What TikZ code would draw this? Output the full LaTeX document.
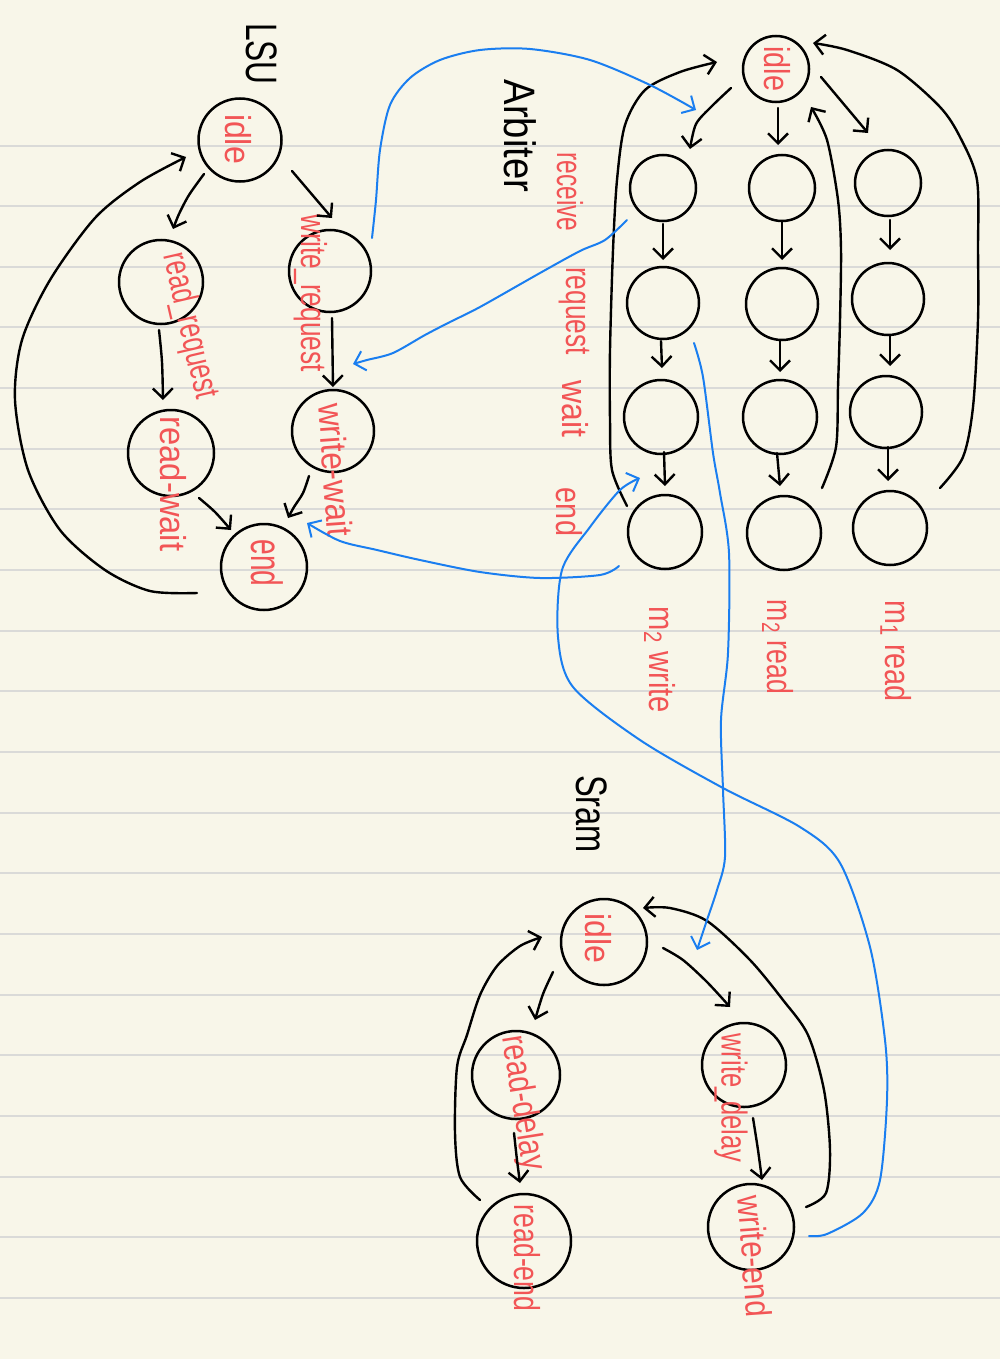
\documentclass[tikz,border=0pt]{standalone}
\usepackage{fontspec}
\newfontfamily\hw{Liberation Sans}
\usetikzlibrary{arrows.meta}
\definecolor{paper}{HTML}{F8F6E9}
\definecolor{rulecol}{HTML}{DADAD8}
\definecolor{penred}{HTML}{F25556}
\definecolor{penblue}{HTML}{1A7EF0}
\begin{document}
\begin{tikzpicture}[x=0.5pt,y=-0.5pt,
  st/.style={circle, draw=black, line width=1.25pt, inner sep=0pt},
  lab/.style={text=penred, font=\hw\fontsize{18}{20}\selectfont, inner sep=0pt, rotate=-90},
  ttl/.style={text=black, font=\hw\fontsize{22}{24}\selectfont, inner sep=0pt, rotate=-90},
  edge/.style={line width=1.2pt, black, line cap=round, line join=round,
    -{Straight Barb[length=5pt,width=10pt]}},
  bedge/.style={line width=1pt, penblue, line cap=round, line join=round,
    -{Straight Barb[length=5pt,width=10pt]}},
  rule/.style={line width=1pt, rulecol}]
\useasboundingbox (0,0) rectangle (1000,1359);
\fill[paper] (0,0) rectangle (1000,1359);
\foreach \k in {0,...,19} \draw[rule] (0,{145.5+60.65*\k}) -- (1000,{145.5+60.65*\k});

% ---------- LSU ----------
\node[ttl, xscale=0.72] (tLSU) at (262,54) {LSU};
\node[st, minimum size=41.5pt] (Lidle) at (240,140) {};
\node[st, minimum size=42pt] (Lrr) at (161,282) {};
\node[st, minimum size=41pt] (Lwr) at (330,271) {};
\node[st, minimum size=43pt] (Lrw) at (171,453) {};
\node[st, minimum size=41pt] (Lww) at (333,431) {};
\node[st, minimum size=43pt] (Lend) at (264,567) {};

\node[lab, xscale=0.89] (tLidle) at (238,139) {idle};
\node[lab, rotate=13, xscale=0.70] (tLrr) at (189,326) {read\_request};
\node[lab, xscale=0.73] (tLwr) at (311,293) {write\_request};
\node[lab, xscale=0.91] (tLrw) at (173,484) {read-wait};
\node[lab, rotate=4, xscale=0.88] (tLww) at (336,470) {write-wait};
\node[lab, font=\hw\fontsize{22}{24}\selectfont, xscale=0.64] (tLend) at (267,563) {end};

\draw[edge] plot[smooth] coordinates {([shift={(-36,34)}]Lidle.center) (189,195) (179,214) ([shift={(12,-53)}]Lrr.center)};
\draw[edge] ([shift={(52,31)}]Lidle.center) -- ([shift={(2,-53)}]Lwr.center);
\draw[edge] plot[smooth] coordinates {([shift={(-2,48)}]Lrr.center) (162,362) ([shift={(-8,-53)}]Lrw.center)};
\draw[edge] ([shift={(2,47)}]Lwr.center) -- ([shift={(0,-44)}]Lww.center);
\draw[edge] plot[smooth] coordinates {([shift={(28,45)}]Lrw.center) (215,512) ([shift={(-33,-37)}]Lend.center)};
\draw[edge] plot[smooth] coordinates {([shift={(-24,45)}]Lww.center) (303,493) (294,507) ([shift={(24,-49)}]Lend.center)};
\draw[edge] plot[smooth] coordinates {([shift={(-67,26)}]Lend.center) (150,591) (105,570) (60,530) (28,470) (15,400) (22,340) (50,280) (95,218) (140,182) ([shift={(-54,17)}]Lidle.center)};

% ---------- Arbiter ----------
\node[ttl, xscale=0.87] (tArb) at (520,136) {Arbiter};
\node[st, minimum size=33pt] (Aidle) at (776,69) {};
\node[st, minimum size=33pt] (A11) at (663,188) {};
\node[st, minimum size=33pt] (A12) at (782,188) {};
\node[st, minimum size=33pt] (A13) at (888,183) {};
\node[st, minimum size=36pt] (A21) at (663,303) {};
\node[st, minimum size=36pt] (A22) at (782,304) {};
\node[st, minimum size=36pt] (A23) at (888,299) {};
\node[st, minimum size=37pt] (A31) at (661,417) {};
\node[st, minimum size=37pt] (A32) at (780,417) {};
\node[st, minimum size=36pt] (A33) at (886,412) {};
\node[st, minimum size=37pt] (A41) at (665,532) {};
\node[st, minimum size=37pt] (A42) at (784,533) {};
\node[st, minimum size=37pt] (A43) at (890,528) {};

\node[lab, xscale=0.80] (tAidle) at (777,69) {idle};
\node[lab, xscale=0.68] (tArec) at (570,192) {receive};
\node[lab, xscale=0.73] (tAreq) at (574,311) {request};
\node[lab, xscale=0.89] (tAwait) at (575,409) {wait};
\node[lab, xscale=0.80] (tAend) at (569,512) {end};
\node[lab, xscale=0.81] (tM2w) at (660,660) {m\textsubscript{2} write};
\node[lab, xscale=0.74] (tM2r) at (778,647) {m\textsubscript{2} read};
\node[lab, xscale=0.80] (tM1r) at (896,651) {m\textsubscript{1} read};

\draw[edge] plot[smooth] coordinates {([shift={(-45,19)}]Aidle.center) (712,106) (696,124) ([shift={(27,-39)}]A11.center)};
\draw[edge] ([shift={(2,39)}]Aidle.center) -- ([shift={(-4,-43)}]A12.center);
\draw[edge] ([shift={(45,8)}]Aidle.center) -- ([shift={(-20,-50)}]A13.center);
\draw[edge] ([shift={(0,36)}]A11.center) -- ([shift={(0,-43)}]A21.center);
\draw[edge] ([shift={(0,34)}]A12.center) -- ([shift={(0,-44)}]A22.center);
\draw[edge] ([shift={(2,37)}]A13.center) -- ([shift={(2,-49)}]A23.center);
\draw[edge] ([shift={(-2,38)}]A21.center) -- ([shift={(1,-49)}]A31.center);
\draw[edge] ([shift={(-2,37)}]A22.center) -- ([shift={(0,-45)}]A32.center);
\draw[edge] ([shift={(2,37)}]A23.center) -- ([shift={(4,-46)}]A33.center);
\draw[edge] ([shift={(3,35)}]A31.center) -- ([shift={(0,-46)}]A41.center);
\draw[edge] ([shift={(-3,36)}]A32.center) -- ([shift={(-4,-47)}]A42.center);
\draw[edge] ([shift={(2,35)}]A33.center) -- ([shift={(-2,-47)}]A43.center);
\draw[edge] plot[smooth] coordinates {([shift={(-38,-26)}]A41.center) (612,470) (610,420) (610,350) (613,250) (617,180) (625,125) (645,90) (680,72) ([shift={(-59,-7)}]Aidle.center)};
\draw[edge] plot[smooth] coordinates {([shift={(38,-45)}]A42.center) (836,447) (838,387) (840,320) (841,250) (838,200) (827,140) ([shift={(35,38)}]Aidle.center)};
\draw[edge] plot[smooth] coordinates {([shift={(50,-40)}]A43.center) (963,457) (973,407) (978,320) (978,250) (977,180) (960,137) (940,107) (897,70) (847,50) ([shift={(37,-26)}]Aidle.center)};

% ---------- SRAM ----------
\node[ttl, xscale=0.74] (tSram) at (592,814) {Sram};
\node[st, minimum size=43pt] (Sidle) at (604,942) {};
\node[st, minimum size=44pt] (Srd) at (516,1075) {};
\node[st, minimum size=47pt] (Sre) at (524,1241) {};
\node[st, minimum size=42pt] (Swd) at (744,1065) {};
\node[st, minimum size=43pt] (Swe) at (751,1227) {};

\node[lab, xscale=0.89] (tSidle) at (598,938) {idle};
\node[lab, rotate=9, xscale=0.80] (tSrd) at (522,1103) {read-delay};
\node[lab, xscale=0.74] (tSre) at (527,1258) {read-end};
\node[lab, xscale=0.71] (tSwd) at (731,1098) {write\_delay};
\node[lab, rotate=4, xscale=0.82] (tSwe) at (755,1256) {write-end};

\draw[edge] plot[smooth] coordinates {([shift={(-51,30)}]Sidle.center) (543,994) ([shift={(19,-55)}]Srd.center)};
\draw[edge] plot[smooth] coordinates {([shift={(59,6)}]Sidle.center) (683,960) (707,982) ([shift={(-14,-58)}]Swd.center)};
\draw[edge] plot[smooth] coordinates {([shift={(-2,58)}]Srd.center) (517,1160) ([shift={(-4,-58)}]Sre.center)};
\draw[edge] plot[smooth] coordinates {([shift={(9,53)}]Swd.center) (758,1150) ([shift={(11,-47)}]Swe.center)};
\draw[edge] plot[smooth] coordinates {([shift={(-44,-41)}]Sre.center) (460,1177) (455,1133) (457,1067) (467,1035) (480,995) (497,966) (520,946) ([shift={(-62,-5)}]Sidle.center)};
\draw[edge] plot[smooth] coordinates {([shift={(55,-20)}]Swe.center) (826,1193) (830,1150) (824,1090) (808,1035) (783,1000) (750,960) (707,921) (670,908) ([shift={(39,-34)}]Sidle.center)};

% ---------- blue links ----------
\draw[bedge] plot[smooth] coordinates {([shift={(42,-33)}]Lwr.center) (376,200) (380,150) (390,105) (410,78) (440,60) (480,50) (530,49) (590,60) (650,85) ([shift={(33,-78)}]A11.center)};
\draw[bedge] plot[smooth] coordinates {([shift={(-36,32)}]A11.center) (605,240) (580,251) (540,273) (480,307) (450,322) (425,335) (393,353) (367,360) ([shift={(20,-67)}]Lww.center)};
\draw[bedge] plot[smooth] coordinates {([shift={(-46,34)}]A41.center) (600,575) (540,578) (480,572) (420,560) (377,550) (340,541) ([shift={(43,-44)}]Lend.center)};
\draw[bedge] plot[smooth] coordinates {([shift={(31,40)}]A21.center) (703,377) (713,453) (720,493) (729,553) (728,653) (721,720) (723,790) (725,857) (717,890) (707,920) ([shift={(93,8)}]Sidle.center)};
\draw[bedge] plot[smooth] coordinates {([shift={(58,9)}]Swe.center) (827,1234) (863,1213) (880,1180) (887,1100) (885,1040) (870,947) (840,863) (800,827) (723,788) (640,740) (573,687) (558,637) (562,570) (590,527) (620,490) ([shift={(-25,-54)}]A41.center)};
\end{tikzpicture}
\end{document}
